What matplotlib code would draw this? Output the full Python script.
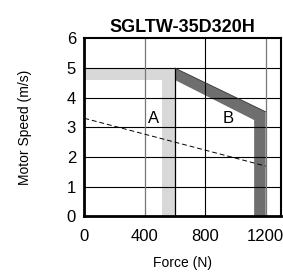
import matplotlib.pyplot as plt

plt.rcParams['font.family'] = ['Liberation Sans', 'DejaVu Sans']

# curve A (light band): outer edge and inner edge
a_force = [0, 600, 600]
a_speed = [5, 5, 0]
a_in_force = [514, 514, 0]
a_in_speed = [0, 4.6, 4.6]

# curve B (dark band)
b_force = [600, 1200, 1200]
b_speed = [5, 3.53, 0]
b_in_force = [1124, 1124, 600]
b_in_speed = [0, 3.25, 4.6]

# dashed line
dash_force = [0, 1200]
dash_speed = [3.31, 1.70]

xticks = [0, 400, 800, 1200]
yticks = [0, 1, 2, 3, 4, 5, 6]

fig = plt.figure(figsize=(2.83, 2.76), dpi=100)
ax = fig.add_axes([0.298, 0.2156, 0.694, 0.645])

ax.fill(a_force + a_in_force, a_speed + a_in_speed, color='#d8d8d8', lw=0, zorder=1)
ax.fill(b_force + b_in_force, b_speed + b_in_speed, color='#6e6e6e', lw=0, zorder=1)
ax.plot([600, 600], [0, 5], color='black', lw=0.9, zorder=3)
ax.plot(b_force[:2], b_speed[:2], color='#333333', lw=0.6, zorder=3)

ax.plot(dash_force, dash_speed, color='black', lw=0.7, ls=(0, (5, 3)), zorder=3)

# grid
for y in yticks[1:-1]:
    ax.axhline(y, color='black', lw=0.8, zorder=2)
ax.axvline(400, color='#777777', lw=0.9, zorder=2)
ax.axvline(800, color='black', lw=0.8, zorder=2)
ax.axvline(1200, color='#777777', lw=0.9, zorder=2)

ax.text(458, 3.3, 'A', fontsize=12, ha='center', va='center', zorder=4)
ax.text(955, 3.3, 'B', fontsize=12, ha='center', va='center', zorder=4)

ax.set_xlim(0, 1300)
ax.set_ylim(0, 6)
ax.set_xticks(xticks)
ax.set_yticks(yticks)
ax.tick_params(axis='y', length=0, labelsize=12, pad=6)
ax.tick_params(axis='x', length=0, labelsize=12, pad=9)

ax.spines['left'].set_linewidth(2)
ax.spines['bottom'].set_linewidth(2)
ax.spines['top'].set_linewidth(1.5)
ax.spines['right'].set_linewidth(1.5)

ax.set_title('SGLTW-35D320H', fontsize=13, fontweight='bold', pad=5)
ax.set_xlabel('Force (N)', fontsize=10, labelpad=9)
ax.set_ylabel('Motor Speed (m/s)', fontsize=10, labelpad=25)

fig.savefig('out.png', dpi=100)
